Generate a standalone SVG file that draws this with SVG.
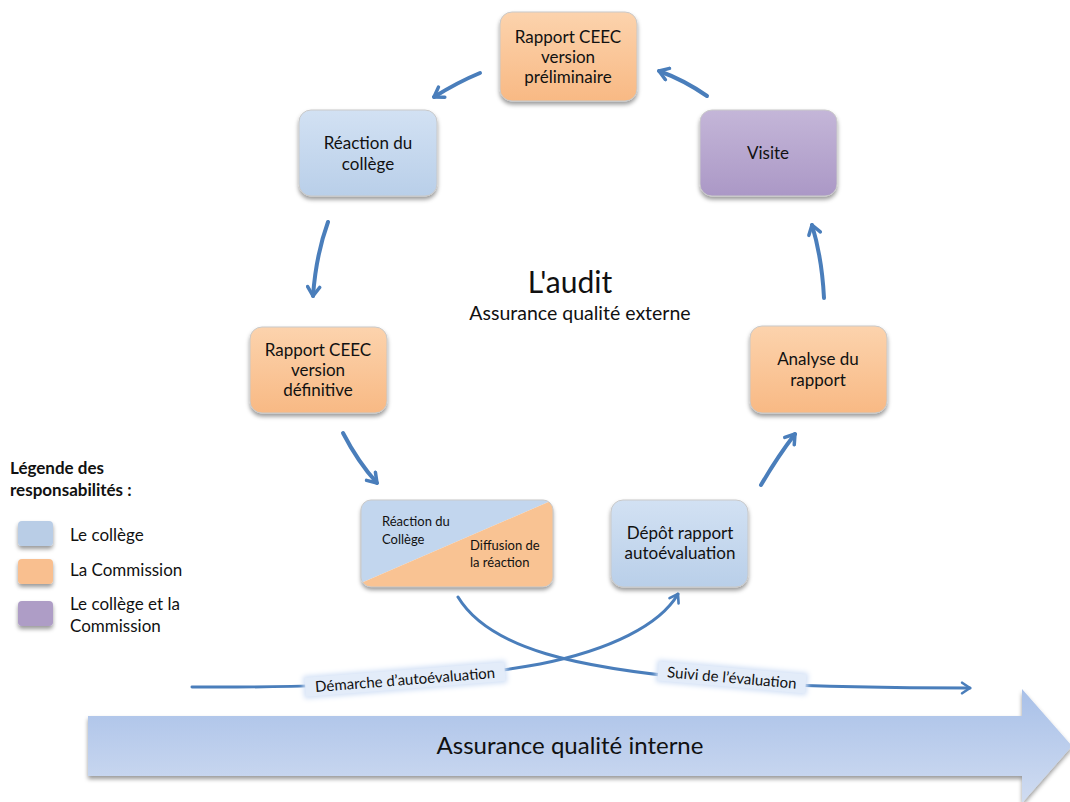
<svg xmlns="http://www.w3.org/2000/svg" width="1070" height="802" viewBox="0 0 1070 802">
<defs>
<linearGradient id="gOr" x1="0" y1="0" x2="0" y2="1"><stop offset="0" stop-color="#fcd3ad"/><stop offset="1" stop-color="#f8b984"/></linearGradient>
<linearGradient id="gBl" x1="0" y1="0" x2="0" y2="1"><stop offset="0" stop-color="#d2e1f3"/><stop offset="1" stop-color="#b9cfe9"/></linearGradient>
<linearGradient id="gPu" x1="0" y1="0" x2="0" y2="1"><stop offset="0" stop-color="#c4b6d8"/><stop offset="1" stop-color="#ab98c6"/></linearGradient>
<linearGradient id="gBig" x1="0" y1="0" x2="0" y2="1"><stop offset="0" stop-color="#a8c0e8"/><stop offset="1" stop-color="#d0dcf1"/></linearGradient>
<filter id="sh" x="-20%" y="-20%" width="140%" height="150%"><feDropShadow dx="0" dy="3" stdDeviation="2" flood-color="#000" flood-opacity="0.4"/></filter>
<filter id="glow" x="-20%" y="-50%" width="140%" height="200%"><feGaussianBlur stdDeviation="2.5"/></filter>
<marker id="ah" viewBox="0 0 16 16" refX="12" refY="8" markerWidth="16" markerHeight="16" markerUnits="userSpaceOnUse" orient="auto"><path d="M3,2 L12,8 L3,14" fill="none" stroke="#4a7ebb" stroke-width="3.5" stroke-linecap="round" stroke-linejoin="round"/></marker>
<marker id="ah2" viewBox="0 0 16 16" refX="12" refY="8" markerWidth="14" markerHeight="14" markerUnits="userSpaceOnUse" orient="auto"><path d="M3,2 L12,8 L3,14" fill="none" stroke="#4a7ebb" stroke-width="3" stroke-linecap="round" stroke-linejoin="round"/></marker>
</defs>
<style>
text{font-family:Lato,"Open Sans","DejaVu Sans",sans-serif;fill:#111}
.n{font-size:17px;text-anchor:middle}
.s{font-size:13px}
.lb{font-size:15px;text-anchor:middle}
.box{stroke:#c9c9c9;stroke-width:1}
.arr{fill:none;stroke:#4a7ebb;stroke-width:4;stroke-linecap:round;marker-end:url(#ah)}
.arr2{fill:none;stroke:#4a7ebb;stroke-width:3;stroke-linecap:round}
.leg{font-size:17px}
.legb{font-size:17px;font-weight:bold}
</style>
<rect width="1070" height="802" fill="#fff"/>

<g id="big-arrow">
<path d="M88,716 L1022,716 L1022,689 L1072,746 L1022,803 L1022,776 L88,776 Z" fill="url(#gBig)" filter="url(#sh)"/>
<text x="570" y="754" style="font-size:24px;text-anchor:middle">Assurance qualité interne</text>
</g>

<g id="title">
<text x="570" y="293" style="font-size:30px;text-anchor:middle">L'audit</text>
<text x="580" y="320" style="font-size:19.5px;text-anchor:middle">Assurance qualité externe</text>
</g>

<g id="connectors">
<path class="arr" d="M480,73 Q458,82 434,97"/>
<path class="arr" d="M707,96 Q684,80 659,71"/>
<path class="arr" d="M328,222 Q316,255 313,296"/>
<path class="arr" d="M824,298 Q822,258 812,225"/>
<path class="arr" d="M343,433 Q358,462 377,483"/>
<path class="arr" d="M761,485 Q778,456 795,434"/>
<path class="arr2" d="M458,597 C490,650 580,668 700,679 C780,687 880,688 970,688" marker-end="url(#ah2)"/>
<path class="arr2" d="M192,687 C350,688 450,680 540,664 C610,650 660,625 678,594" marker-end="url(#ah2)"/>
</g>

<g id="label-demarche" transform="rotate(-4.5 405 679)">
<rect x="303" y="668" width="204" height="23" rx="3" fill="#d3e1f6" filter="url(#glow)"/>
<rect x="305" y="670" width="200" height="19" fill="#e3ecf9"/>
<text x="405" y="685" class="lb">Démarche d’autoévaluation</text>
</g>
<g id="label-suivi" transform="rotate(5 732 677)">
<rect x="656" y="666" width="152" height="23" rx="3" fill="#d3e1f6" filter="url(#glow)"/>
<rect x="658" y="668" width="148" height="19" fill="#e3ecf9"/>
<text x="732" y="683" class="lb">Suivi de l’évaluation</text>
</g>

<g id="node-prelim">
<rect class="box" x="500" y="12" width="137" height="89" rx="12" fill="url(#gOr)" filter="url(#sh)"/>
<text class="n" x="568" y="43">Rapport CEEC</text>
<text class="n" x="568" y="63">version</text>
<text class="n" x="568" y="83">préliminaire</text>
</g>
<g id="node-reaction">
<rect class="box" x="299" y="110" width="138" height="86" rx="12" fill="url(#gBl)" filter="url(#sh)"/>
<text class="n" x="368" y="149">Réaction du</text>
<text class="n" x="368" y="170">collège</text>
</g>
<g id="node-visite">
<rect class="box" x="700" y="110" width="137" height="86" rx="12" fill="url(#gPu)" filter="url(#sh)"/>
<text class="n" x="768" y="159">Visite</text>
</g>
<g id="node-definitive">
<rect class="box" x="250" y="327" width="137" height="86" rx="12" fill="url(#gOr)" filter="url(#sh)"/>
<text class="n" x="318" y="356">Rapport CEEC</text>
<text class="n" x="318" y="376">version</text>
<text class="n" x="318" y="396">définitive</text>
</g>
<g id="node-analyse">
<rect class="box" x="750" y="326" width="137" height="87" rx="12" fill="url(#gOr)" filter="url(#sh)"/>
<text class="n" x="818" y="365">Analyse du</text>
<text class="n" x="818" y="386">rapport</text>
</g>
<g id="node-split">
<clipPath id="cp"><rect x="361" y="500" width="192" height="87" rx="10"/></clipPath>
<rect x="361" y="500" width="192" height="87" rx="10" fill="#fff" filter="url(#sh)"/>
<g clip-path="url(#cp)">
<polygon points="361,500 553,500 553,500 361,583" fill="#c2d6ee"/>
<polygon points="553,500 553,587 361,587 361,583" fill="#f9c393"/>
</g>
<rect class="box" x="361" y="500" width="192" height="87" rx="10" fill="none"/>
<text class="s" x="382" y="526">Réaction du</text>
<text class="s" x="382" y="544">Collège</text>
<text class="s" x="470" y="550">Diffusion de</text>
<text class="s" x="470" y="567">la réaction</text>
</g>
<g id="node-depot">
<rect class="box" x="611" y="500" width="137" height="87" rx="12" fill="url(#gBl)" filter="url(#sh)"/>
<text class="n" x="680" y="539">Dépôt rapport</text>
<text class="n" x="680" y="559">autoévaluation</text>
</g>

<g id="legend">
<text class="legb" x="10" y="474">Légende des</text>
<text class="legb" x="10" y="496">responsabilités :</text>
<rect x="18" y="521" width="35" height="25" rx="4" fill="#b9cde6" filter="url(#sh)"/>
<text class="leg" x="70" y="541">Le collège</text>
<rect x="18" y="559" width="35" height="25" rx="4" fill="#f9bf8f" filter="url(#sh)"/>
<text class="leg" x="70" y="576">La Commission</text>
<rect x="18" y="601" width="35" height="25" rx="4" fill="#ae9dc6" filter="url(#sh)"/>
<text class="leg" x="70" y="610">Le collège et la</text>
<text class="leg" x="70" y="632">Commission</text>
</g>
</svg>
